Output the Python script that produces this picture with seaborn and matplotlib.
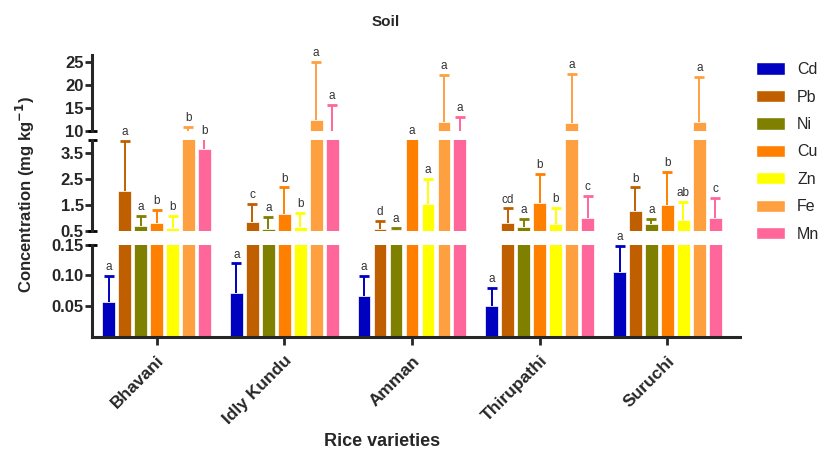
import numpy as np
import pandas as pd
import matplotlib.pyplot as plt
import seaborn as sns

varieties = ['Bhavani', 'Idly Kundu', 'Amman', 'Thirupathi', 'Suruchi']
elements = ['Cd', 'Pb', 'Ni', 'Cu', 'Zn', 'Fe', 'Mn']
colors = ['#0000C0', '#C05F00', '#808000', '#FF8000', '#FFFF00', '#FFA040', '#FF6699']

# mean concentration (mg/kg), one value per variety
cd = [0.056, 0.071, 0.066, 0.050, 0.105]
pb = [2.04, 0.82, 0.55, 0.78, 1.27]
ni = [0.68, 0.58, 0.53, 0.63, 0.75]
cu = [0.81, 1.14, 7.0, 1.55, 1.49]
zn = [0.59, 0.63, 1.53, 0.76, 0.91]
fe = [9.0, 12.4, 11.9, 11.8, 11.95]
mn = [3.64, 8.5, 8.5, 0.98, 0.98]

# standard deviation (upper bar only)
cd_sd = [0.043, 0.049, 0.033, 0.030, 0.043]
pb_sd = [1.92, 0.70, 0.32, 0.58, 0.90]
ni_sd = [0.40, 0.46, 0.07, 0.31, 0.19]
cu_sd = [0.49, 1.03, 1.5, 1.12, 1.26]
zn_sd = [0.48, 0.56, 0.95, 0.62, 0.71]
fe_sd = [1.8, 12.5, 10.3, 10.5, 9.75]
mn_sd = [0.66, 7.1, 4.6, 0.85, 0.79]

# significance letters
cd_lab = ['a', 'a', 'a', 'a', 'a']
pb_lab = ['a', 'c', 'd', 'cd', 'b']
ni_lab = ['a', 'a', 'a', 'a', 'a']
cu_lab = ['b', 'b', 'a', 'b', 'b']
zn_lab = ['b', 'b', 'a', 'b', 'ab']
fe_lab = ['b', 'a', 'a', 'a', 'a']
mn_lab = ['b', 'a', 'a', 'c', 'c']

means = [cd, pb, ni, cu, zn, fe, mn]
sds = [cd_sd, pb_sd, ni_sd, cu_sd, zn_sd, fe_sd, mn_sd]
labs = [cd_lab, pb_lab, ni_lab, cu_lab, zn_lab, fe_lab, mn_lab]

df = pd.DataFrame({
    'variety': np.tile(varieties, len(elements)),
    'element': np.repeat(elements, len(varieties)),
    'value': np.concatenate(means),
})

sns.set_style('ticks')
plt.rcParams['font.family'] = ['Liberation Sans', 'DejaVu Sans']

fig = plt.figure(figsize=(8.24, 4.5), dpi=100)
left, width = 0.1117, 0.786
ax_top = fig.add_axes([left, 0.709, width, 0.169])
ax_mid = fig.add_axes([left, 0.4873, width, 0.2023])
ax_bot = fig.add_axes([left, 0.2522, width, 0.2034])
axes = [ax_bot, ax_mid, ax_top]
ranges = [(0, 0.15), (0.5, 4.0), (10, 26.5)]
yticks = [[0.05, 0.10, 0.15], [0.5, 1.5, 2.5, 3.5], [10, 15, 20, 25]]
yticklabels = [['0.05', '0.10', '0.15'], ['0.5', '1.5', '2.5', '3.5'], ['10', '15', '20', '25']]

for ax, (lo, hi), yt, ytl in zip(axes, ranges, yticks, yticklabels):
    sns.barplot(data=df, x='variety', y='value', hue='element', order=varieties,
                hue_order=elements, palette=colors, saturation=1, errorbar=None,
                width=0.875, gap=0.2, edgecolor='white', linewidth=0.5, ax=ax)
    ax.get_legend().remove()
    # one-sided error bars with a cap on top
    for cont, sd, col in zip(ax.containers, sds, colors):
        for p, e in zip(cont.patches, sd):
            xc = p.get_x() + p.get_width() / 2
            h = p.get_height()
            ax.vlines(xc, h, h + e, color=col, lw=1.4)
            ax.plot([xc], [h + e], marker='_', ms=6.5, mew=2, color=col)
    ax.set_ylim(lo, hi)
    ax.set_xlim(-0.505, 4.566)
    ax.set_yticks(yt)
    ax.set_yticklabels(ytl, fontsize=12, fontweight='bold')
    ax.set_xlabel('')
    ax.set_ylabel('')
    for s in ['top', 'right']:
        ax.spines[s].set_visible(False)
    ax.spines['left'].set_linewidth(2.2)
    ax.spines['bottom'].set_linewidth(2.2)
    ax.tick_params(axis='y', width=2, length=5, pad=1)
    if ax is not ax_bot:
        ax.spines['bottom'].set_visible(False)
        ax.tick_params(axis='x', bottom=False, labelbottom=False)

# small caps at the broken spine ends
for ax, ends in [(ax_top, [0]), (ax_mid, [0, 1]), (ax_bot, [1])]:
    for yy in ends:
        ax.plot([-0.007, 0.007], [yy, yy], transform=ax.transAxes, color='black',
                lw=2, clip_on=False, solid_capstyle='butt')

ax_bot.tick_params(axis='x', width=2, length=6, pad=6)
ax_bot.set_xticks(range(len(varieties)))
ax_bot.set_xticklabels(varieties, rotation=45, ha='right', rotation_mode='anchor',
                       fontsize=12.5, fontweight='bold')

# letters above error bars
for cont, m, sd, lab in zip(ax_bot.containers, means, sds, labs):
    for p, v, e, t in zip(cont.patches, m, sd, lab):
        top = v + e
        xc = p.get_x() + p.get_width() / 2
        if top > ranges[2][0]:
            ax = ax_top
        elif top > ranges[1][0]:
            ax = ax_mid
        else:
            ax = ax_bot
        y = min(top, ax.get_ylim()[1])
        ax.annotate(t, (xc, y), xytext=(0, 2), textcoords='offset points',
                    ha='center', va='bottom', fontsize=8.5, color='#333333',
                    annotation_clip=False)

handles = [plt.Rectangle((0, 0), 1, 1, facecolor=c, edgecolor='white') for c in colors]
fig.legend(handles, elements, loc='upper left', bbox_to_anchor=(0.918, 0.862),
           frameon=False, fontsize=11.5, handlelength=1.8, handleheight=0.8,
           handletextpad=0.75, labelspacing=0.78, borderpad=0, borderaxespad=0)

fig.text(0.468, 0.951, 'Soil', ha='center', va='center', fontsize=11, fontweight='bold')
fig.text(0.031, 0.568, 'Concentration (mg kg$^{\\mathbf{-1}}$)', rotation=90, ha='center',
         va='center', fontsize=12, fontweight='bold')
fig.text(0.464, 0.02, 'Rice varieties', ha='center', va='center', fontsize=13,
         fontweight='bold')

fig.savefig('out.png', dpi=100)
